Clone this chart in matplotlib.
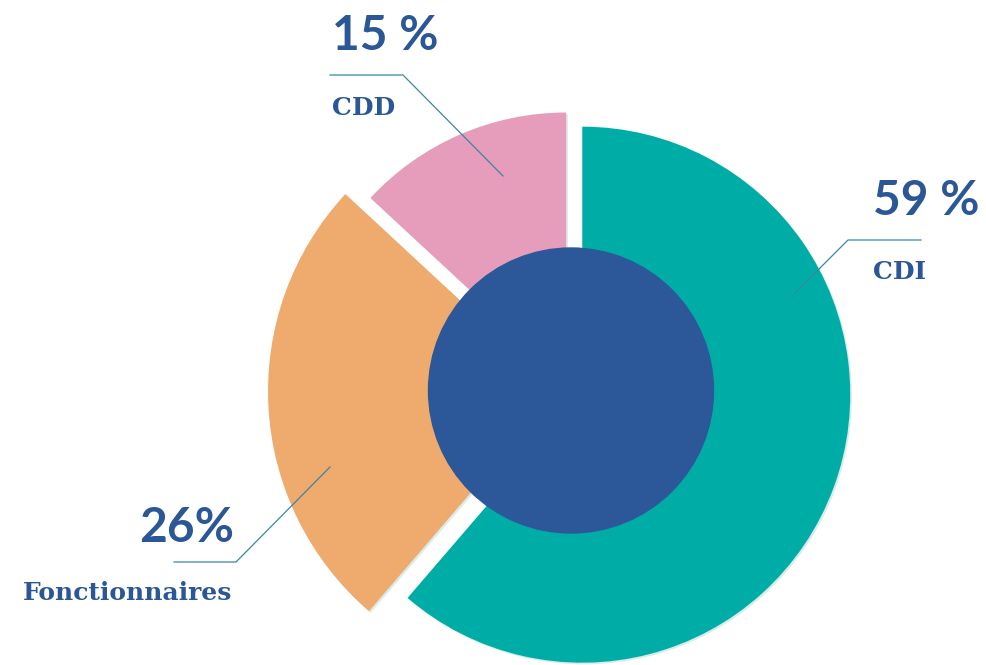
import matplotlib.pyplot as plt
import matplotlib.patheffects as pe
from matplotlib.patches import Circle

labels = ['CDI', 'Fonctionnaires', 'CDD']
pct_labels = ['59 %', '26%', '15 %']
# wedge sizes as they are drawn in the picture (the printed percentages differ a bit)
shares = [61.3, 25.6, 13.1]

colors = ['#00ada6', '#eeab6d', '#e59dbb']
hole_color = '#2c5899'
text_color = '#2b5797'
line_color = '#3a86a4'

W, H = 986, 665
fig = plt.figure(figsize=(W / 100, H / 100), dpi=100)
ax = fig.add_axes([0, 0, 1, 1])

center = (571, H - 390.5)
radii = [268, 290, 267]
wedges, _ = ax.pie(shares, colors=colors, startangle=90, counterclock=False,
                   center=center, radius=270, explode=[12, 13, 12])
for w, r in zip(wedges, radii):
    w.set_radius(r)
    w.set_path_effects([pe.SimplePatchShadow(offset=(1.2, -1.2), shadow_rgbFace='#b3dbd6', alpha=0.5),
                        pe.Normal()])

ax.add_patch(Circle(center, 142.5, color=hole_color, zorder=5))

ax.set_xlim(0, W)
ax.set_ylim(0, H)
ax.set_aspect('equal')
ax.axis('off')

# label layout (image pixel coords, y measured from the top)
layout = {
    'CDI': dict(pct=(873, 215, 'left'), name=(873, 279, 'left'),
                line=[(921, 240), (848, 240), (794, 294)]),
    'Fonctionnaires': dict(pct=(234, 542, 'right'), name=(232, 600, 'right'),
                           line=[(174, 562), (236, 562), (330, 467)]),
    'CDD': dict(pct=(332, 50, 'left'), name=(332, 115, 'left'),
                line=[(330, 75), (403, 75), (503, 176)]),
}

for name, pct in zip(labels, pct_labels):
    lay = layout[name]
    x, y, ha = lay['pct']
    ax.text(x, H - y, pct, ha=ha, va='baseline', color=text_color,
            fontsize=34.5, fontweight='bold', family='Lato', zorder=10)
    x, y, ha = lay['name']
    ax.text(x, H - y, name, ha=ha, va='baseline', color=text_color,
            fontsize=18, fontweight='bold', family='DejaVu Serif', zorder=10)
    xs = [p[0] for p in lay['line']]
    ys = [H - p[1] for p in lay['line']]
    ax.plot(xs, ys, color=line_color, lw=0.9, zorder=10)

fig.savefig('out.png', dpi=100, facecolor='white')
